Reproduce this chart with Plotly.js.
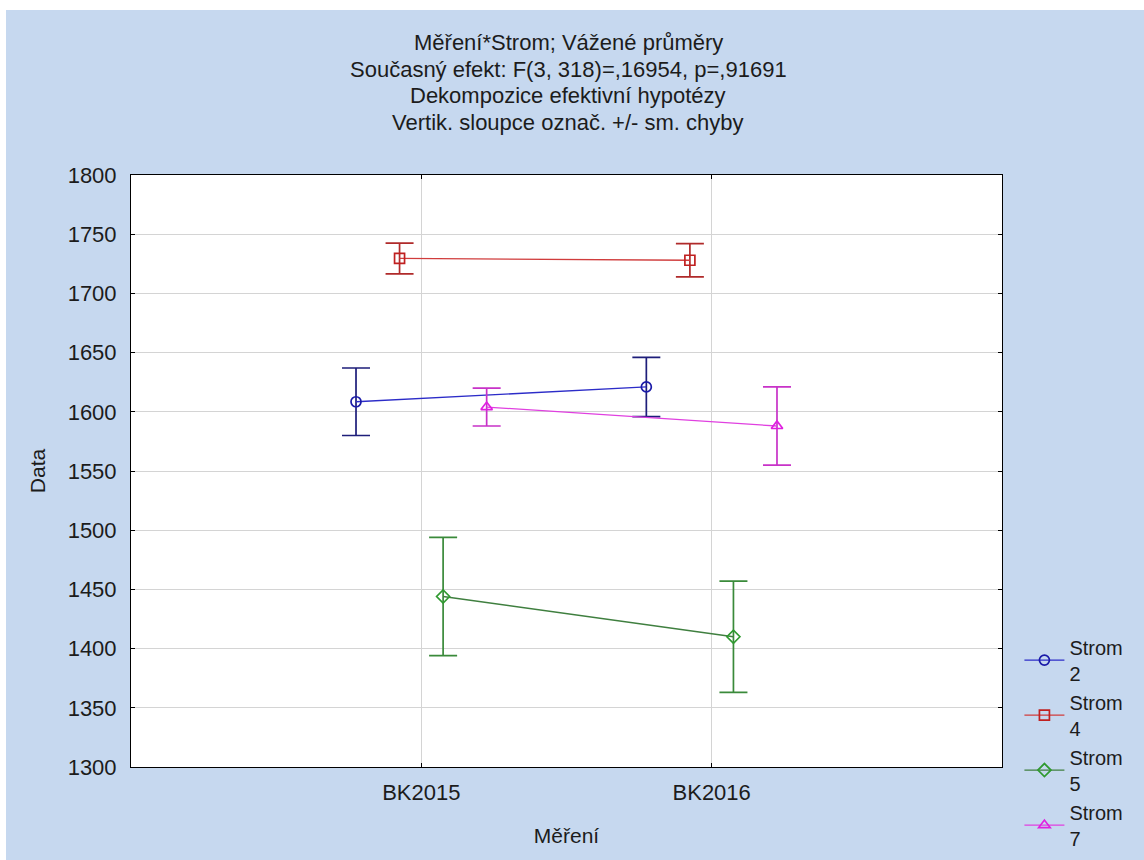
<!DOCTYPE html>
<html>
<head>
<meta charset="utf-8">
<script src="https://cdn.plot.ly/plotly-3.0.1.min.js"></script>
<style>
  html, body { margin: 0; padding: 0; background: #ffffff; width: 1144px; height: 860px; overflow: hidden; }
  #chart { position: absolute; left: 6px; top: 10px; width: 1138px; height: 850px; }
</style>
</head>
<body>
<div id="chart"></div>
<script>
// ---- data ----
const categories = ['BK2015', 'BK2016'];
const seriesNames = ['Strom<br>2', 'Strom<br>4', 'Strom<br>5', 'Strom<br>7'];
const strom2 = [1608.5, 1621];
const strom2Err = [28.5, 25];
const strom4 = [1729.5, 1728];
const strom4Err = [13, 14];
const strom5 = [1444, 1410];
const strom5Err = [50, 47];
const strom7 = [1604, 1588];
const strom7Err = [16, 33];
const yTickValues = [1300, 1350, 1400, 1450, 1500, 1550, 1600, 1650, 1700, 1750, 1800];
const titleLines = [
  'Měření*Strom; Vážené průměry',
  'Současný efekt: F(3, 318)=,16954, p=,91691',
  'Dekompozice efektivní hypotézy',
  'Vertik. sloupce označ. +/- sm. chyby'
];

// ---- styling ----
const dodge = [-0.225, -0.075, 0.075, 0.225];
const styles = [
  { line: '#2c2cc8', err: '#1e1e7a', marker: '#1a1aa8', symbol: 'circle-open' },
  { line: '#d03c3c', err: '#b02a2a', marker: '#c02020', symbol: 'square-open' },
  { line: '#3f7f3f', err: '#3a8a3a', marker: '#2f9a2f', symbol: 'diamond-open' },
  { line: '#e040e0', err: '#c832c8', marker: '#e020e0', symbol: 'triangle-up-open' }
];
const values = [strom2, strom4, strom5, strom7];
const errors = [strom2Err, strom4Err, strom5Err, strom7Err];

const traces = values.map((vals, i) => ({
  type: 'scatter',
  mode: 'lines+markers',
  name: seriesNames[i],
  x: categories.map((c, k) => k + dodge[i]),
  y: vals,
  line: { color: styles[i].line, width: 1.3 },
  marker: { symbol: styles[i].symbol, size: 10, color: styles[i].marker, line: { width: 1.7, color: styles[i].marker } },
  error_y: { type: 'data', array: errors[i], visible: true, color: styles[i].err, thickness: 1.7, width: 14 },
  hoverinfo: 'x+y'
}));

const fontFam = '"Liberation Sans", Arial, sans-serif';
const textColor = '#1c1c1c';

const W = 1138, H = 850;
const M = { l: 125, r: 142, t: 165, b: 93 };
const plotH = H - M.t - M.b;
// title line centres (container px from top of div)
const titleY = [33, 60, 86, 112];
const annotations = titleLines.map((t, i) => ({
  text: t,
  xref: 'paper', yref: 'paper',
  x: 0.502, xanchor: 'center',
  y: (H - M.b - titleY[i]) / plotH, yanchor: 'middle',
  showarrow: false,
  font: { family: fontFam, size: 22, color: textColor }
}));

const layout = {
  width: W,
  height: H,
  paper_bgcolor: '#c6d8ef',
  plot_bgcolor: '#ffffff',
  font: { family: fontFam, size: 22, color: textColor },
  margin: { l: M.l, r: M.r, t: M.t, b: M.b, autoexpand: false },
  annotations: annotations,
  xaxis: {
    range: [-1, 2],
    tickmode: 'array',
    tickvals: categories.map((c, k) => k),
    ticktext: categories,
    showgrid: true, gridcolor: '#d4d4d4', gridwidth: 1,
    zeroline: false,
    showline: true, linecolor: '#000000', linewidth: 1, mirror: 'ticks',
    ticks: 'inside', ticklen: 4, tickcolor: '#000000',
    tickfont: { size: 22, color: textColor },
    ticklabelstandoff: 6,
    title: { text: 'Měření', font: { size: 21, color: textColor }, standoff: 23 },
    fixedrange: true
  },
  yaxis: {
    range: [1300, 1800],
    tickmode: 'array',
    tickvals: yTickValues,
    ticktext: yTickValues.map(String),
    showgrid: true, gridcolor: '#d4d4d4', gridwidth: 1,
    zeroline: false,
    showline: true, linecolor: '#000000', linewidth: 1, mirror: 'ticks',
    ticks: 'inside', ticklen: 4, tickcolor: '#000000',
    tickfont: { size: 22, color: textColor },
    ticklabelstandoff: 9,
    title: { text: 'Data', font: { size: 21, color: textColor }, standoff: 16 },
    fixedrange: true
  },
  showlegend: true,
  legend: {
    x: 1.02, xanchor: 'left',
    y: -0.153, yanchor: 'bottom',
    bgcolor: 'rgba(0,0,0,0)',
    font: { size: 20, color: textColor },
    tracegroupgap: 0,
    itemwidth: 40
  }
};

Plotly.newPlot('chart', traces, layout, { displayModeBar: false, staticPlot: true });
</script>
</body>
</html>
